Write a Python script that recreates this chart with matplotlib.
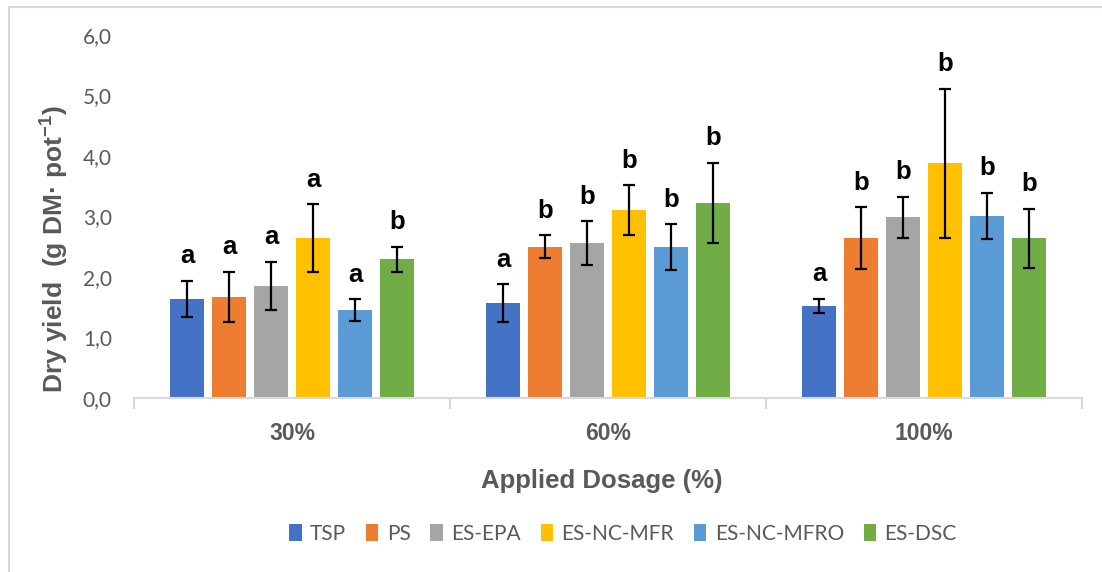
import matplotlib
matplotlib.use("Agg")
import matplotlib.pyplot as plt
from matplotlib.lines import Line2D
from matplotlib.patches import Patch
import numpy as np

categories = ["30%", "60%", "100%"]
series = ["TSP", "PS", "ES-EPA", "ES-NC-MFR", "ES-NC-MFRO", "ES-DSC"]
colors = ["#4472C4", "#ED7D31", "#A5A5A5", "#FFC000", "#5B9BD5", "#70AD47"]

tsp = [1.64, 1.57, 1.52]
ps = [1.67, 2.50, 2.64]
es_epa = [1.85, 2.56, 2.99]
es_nc_mfr = [2.64, 3.11, 3.88]
es_nc_mfro = [1.45, 2.49, 3.01]
es_dsc = [2.29, 3.23, 2.64]

tsp_err = [0.30, 0.31, 0.12]
ps_err = [0.42, 0.19, 0.51]
es_epa_err = [0.40, 0.36, 0.34]
es_nc_mfr_err = [0.56, 0.41, 1.23]
es_nc_mfro_err = [0.18, 0.38, 0.38]
es_dsc_err = [0.21, 0.66, 0.49]

tsp_let = ["a", "a", "a"]
ps_let = ["a", "b", "b"]
es_epa_let = ["a", "b", "b"]
es_nc_mfr_let = ["a", "b", "b"]
es_nc_mfro_let = ["a", "b", "b"]
es_dsc_let = ["b", "b", "b"]

values = [tsp, ps, es_epa, es_nc_mfr, es_nc_mfro, es_dsc]
errors = [tsp_err, ps_err, es_epa_err, es_nc_mfr_err, es_nc_mfro_err, es_dsc_err]
letters = [tsp_let, ps_let, es_epa_let, es_nc_mfr_let, es_nc_mfro_let, es_dsc_let]

GRAY = "#595959"
LGRAY = "#D9D9D9"
ARIAL = ["Liberation Sans", "DejaVu Sans"]
CAL = ["Lato", "DejaVu Sans"]

plt.rcParams["mathtext.fontset"] = "custom"
plt.rcParams["mathtext.rm"] = "Liberation Sans:bold"
plt.rcParams["mathtext.bf"] = "Liberation Sans:bold"
plt.rcParams["mathtext.it"] = "Liberation Sans:bold"
plt.rcParams["mathtext.sf"] = "Liberation Sans:bold"

W, H = 1102, 572
fig = plt.figure(figsize=(W / 100, H / 100), dpi=100)
ax = fig.add_axes([134 / W, 1 - 398 / H, (1082 - 134) / W, (398 - 35) / H])

x = np.arange(len(categories))
step = 0.1329
bw = 0.107
for i, (vals, errs, lets) in enumerate(zip(values, errors, letters)):
    pos = x + (i - 2.5) * step
    ax.bar(pos, vals, width=bw, color=colors[i], label=series[i], zorder=2)
    ax.errorbar(pos, vals, yerr=errs, fmt="none", ecolor="black",
                elinewidth=1.6, capsize=4.5, capthick=1.6, zorder=3)
    for px, v, e, l in zip(pos, vals, errs, lets):
        ax.annotate(l, (px, v + e), xytext=(0, 9), textcoords="offset points",
                    ha="center", va="bottom", fontsize=18.5, fontweight="bold",
                    family=ARIAL, color="black")

ax.set_xlim(-0.5, 2.5)
ax.set_ylim(0, 6)
ax.set_yticks(np.arange(0, 6.01, 1.0))
ax.set_yticklabels([f"{v:.1f}".replace(".", ",") for v in np.arange(0, 6.01, 1.0)],
                   family=CAL, fontsize=15, color=GRAY)
ax.tick_params(axis="y", length=0, pad=16)
ax.set_xticks(x)
ax.set_xticklabels(categories, family=ARIAL, fontsize=16.5, fontweight="bold", color=GRAY)
ax.set_xticks([-0.5, 0.5, 1.5, 2.5], minor=True)
ax.tick_params(axis="x", which="major", length=0, pad=17)
ax.tick_params(axis="x", which="minor", length=8, width=1.5, color=LGRAY, direction="out")
for s in ["left", "right", "top"]:
    ax.spines[s].set_visible(False)
ax.spines["bottom"].set_color(LGRAY)
ax.spines["bottom"].set_linewidth(1.5)
ax.spines["bottom"].set_zorder(4)

fig.text(602 / W, 1 - 481 / H, "Applied Dosage (%)", ha="center", va="center",
         family=ARIAL, fontsize=18.5, fontweight="bold", color=GRAY)
fig.text(55 / W, 1 - 249 / H, r"Dry yield  (g DM· pot$^{\mathrm{-1}}$)", rotation=90,
         ha="center", va="center", family=ARIAL, fontsize=19, fontweight="bold", color=GRAY)

handles = [Patch(facecolor=c, label=s) for c, s in zip(colors, series)]
leg = fig.legend(handles=handles, loc="center", bbox_to_anchor=(623 / W, 1 - 534 / H),
                 ncol=6, frameon=False, prop={"family": CAL, "size": 15},
                 handlelength=0.6, handleheight=0.9, handletextpad=0.4, columnspacing=0.95)
for t in leg.get_texts():
    t.set_color(GRAY)

fig.add_artist(Line2D([9 / W, 9 / W], [0, 1 - 7 / H], color=LGRAY, lw=1.5))
fig.add_artist(Line2D([9 / W, 1], [1 - 7 / H, 1 - 7 / H], color=LGRAY, lw=1.5))

fig.savefig("out.png", dpi=100)
